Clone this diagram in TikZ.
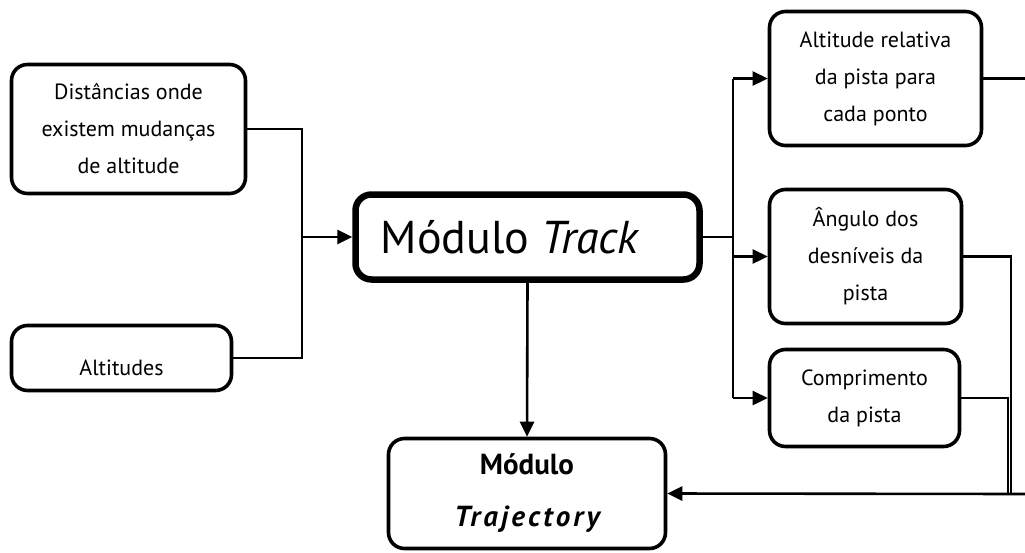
\documentclass[tikz,border=0pt]{standalone}
\usepackage{fontspec}
\setmainfont{PT Sans}
\usetikzlibrary{arrows.meta}
\begin{document}
\begin{tikzpicture}[x=1pt,y=-1pt,
  box/.style={draw, line width=3.6pt, rounded corners=16pt, align=center,
    inner sep=0pt, font=\fontsize{22}{37}\selectfont},
  plain/.style={font=\fontsize{22}{37}\selectfont, inner sep=0pt},
  wire/.style={line width=2.6pt},
  feed/.style={wire, -{Triangle[length=15pt,width=14pt]}},
]
\useasboundingbox (0,0) rectangle (1025,552);

% input boxes
\node[box, minimum width=234pt, minimum height=129pt] (dist) at (128.5,129)
  {Distâncias onde\\existem mudanças\\de altitude};
\node[box, minimum width=220pt, minimum height=65pt] (alt) at (121.5,358) {};
\node[plain] (altlbl) at (121.5,368) {Altitudes};

% central module
\node[box, line width=6.5pt, minimum width=344pt, minimum height=85pt,
  font=\fontsize{46}{52}\selectfont] (track) at (527.5,237)
  {Módulo \textit{Track}\hspace*{34pt}};

% output module
\node[box, minimum width=277pt, minimum height=110pt,
  font=\fontsize{29}{52}\selectfont\bfseries] (traj) at (527,493.5)
  {Módulo\\{\itshape\addfontfeatures{LetterSpace=11}Trajectory}};

% outputs of the track module
\node[box, minimum width=212pt, minimum height=134pt] (arel) at (875.5,78.5)
  {Altitude relativa\\da pista para\\cada ponto};
\node[box, minimum width=192pt, minimum height=134pt] (ang) at (865.5,256.5)
  {Ângulo dos\\desníveis da\\pista};
\node[box, minimum width=190pt, minimum height=97pt] (comp) at (864.5,398)
  {Comprimento\\da pista};

% junction points
\coordinate (jlt) at (302,129);
\coordinate (jlb) at (302,358);
\coordinate (jr) at (733,0);
\coordinate (ja) at (1011,494);
\coordinate (jc) at (1008,494);
\coordinate (edgeT) at (1025,0);
\coordinate (edgeB) at (1025,494);

% inputs merge into the track module
\draw[wire] (dist.east) -- (jlt) -- (jlb) -- (alt.east);
\draw[feed] (jlt |- track.west) -- (track.west);

% track module fans out
\draw[wire] (track.east) -- (track.east -| jr);
\draw[wire] (jr |- arel.west) -- (jr |- comp.west);
\draw[feed] (jr |- arel.west) -- (arel.west);
\draw[feed] (jr |- ang.west) -- (ang.west);
\draw[feed] (jr |- comp.west) -- (comp.west);

% track module to trajectory module
\draw[feed] (track.south) -- (traj.north);

% outputs gathered back into the trajectory module
\draw[wire] (arel.east) -- (arel.east -| edgeT);
\draw[wire] (ang.east) -| (ja);
\draw[wire] (comp.east) -| (jc);
\draw[feed] (edgeB) -- (traj.east);
\end{tikzpicture}
\end{document}
